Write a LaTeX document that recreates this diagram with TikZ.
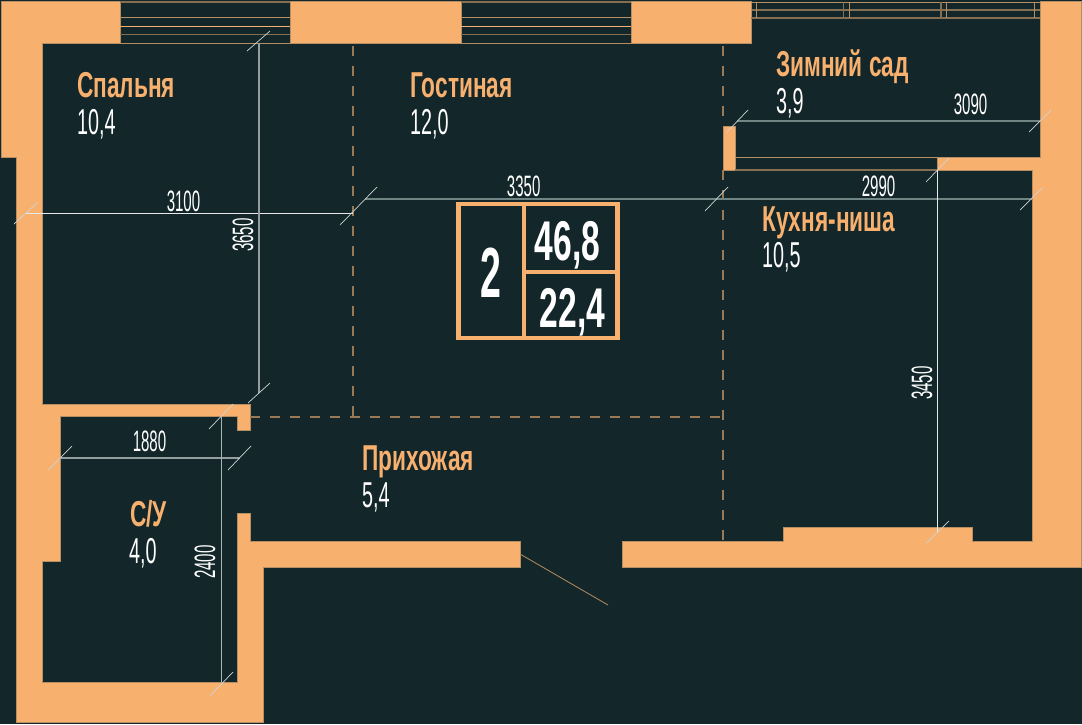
\documentclass[tikz,border=0pt]{standalone}
\usepackage{fontspec}
\newfontfamily\namefont[FakeStretch=0.63]{Liberation Sans Bold}
\newfontfamily\areafont[FakeStretch=0.55]{Liberation Sans}
\newfontfamily\dimfont[FakeStretch=0.51]{Liberation Sans}
\newfontfamily\boxfont[FakeStretch=0.6]{Liberation Sans Bold}
\definecolor{plandark}{HTML}{132629}
\definecolor{planwall}{HTML}{F8B06F}
\definecolor{planedge}{HTML}{B58E63}
\definecolor{planpart}{HTML}{9A7A55}
\definecolor{plandim}{HTML}{6F8684}
\tikzset{
	wall/.style={fill=planwall, draw=planedge, line width=0.6pt},
	glass/.style={draw=planwall, line width=1pt},
	glassdim/.style={draw=planedge!70!plandark, line width=1.3pt},
	partline/.style={draw=planpart, line width=1.3pt, dash pattern=on 10pt off 10pt},
	dimline/.style={draw=plandim, line width=1.6pt},
	dimwhite/.style={draw=white!90!plandark, line width=1pt},
	slash/.style={draw=white!80!plandark, line width=0.7pt},
	roomname/.style={anchor=base west, inner sep=0pt, text=planwall, font=\namefont\fontsize{36}{36}\selectfont},
	roomarea/.style={anchor=base west, inner sep=0pt, text=white, font=\areafont\fontsize{36}{36}\selectfont},
	dimtext/.style={anchor=base, inner sep=0pt, text=white, font=\dimfont\fontsize{29.5}{29.5}\selectfont},
}
\begin{document}
\begin{tikzpicture}[x=1pt, y=-1pt]
	\useasboundingbox (0,0) rectangle (1082,724);
	\fill[plandark] (0,0) rectangle (1082,724);

	% Walls
	\draw[wall] (1,1.5) -- (120,1.5) -- (120,43) -- (42,43) -- (42,404) -- (250,404) -- (250,430) -- (237,430) -- (237,416) -- (60,416) -- (60,561) -- (42,561) -- (42,682.5) -- (237,682.5) -- (237,513) -- (250,513) -- (250,541) -- (520,541) -- (520,567) -- (263,567) -- (263,722) -- (16,722) -- (16,157) -- (1,157) -- cycle;
	\draw[wall] (290,1.5) rectangle (461,43);
	\draw[wall] (631,1.5) rectangle (751,43);
	\draw[wall] (1040,1.5) -- (1081,1.5) -- (1081,567) -- (622,567) -- (622,541) -- (783,541) -- (783,527) -- (972,527) -- (972,541) -- (1032,541) -- (1032,170) -- (937,170) -- (937,157) -- (1040,157) -- cycle;
	\draw[wall] (723,126) rectangle (735,170);

	% Bedroom window
	\draw[glassdim] (120,2) -- (290,2);
	\draw[glass, planedge] (120,17.5) -- (290,17.5);
	\draw[glass] (120,26) -- (290,26);
	\draw[glassdim] (120,34.5) -- (290,34.5);
	\draw[glass, planedge] (120,43) -- (290,43);

	% Living room window
	\draw[glassdim] (461,2) -- (631,2);
	\draw[glass, planedge] (461,17.5) -- (631,17.5);
	\draw[glass] (461,26) -- (631,26);
	\draw[glassdim] (461,34.5) -- (631,34.5);
	\draw[glass, planedge] (461,43) -- (631,43);

	% Winter garden glazing
	\draw[glass, planedge] (751,2) -- (1040,2);
	\draw[glassdim] (751,10) -- (1040,10);
	\draw[glassdim] (751,18) -- (1040,18);
	\draw[glass, planedge] (751,1.5) -- (751,18);
	\draw[glass, planedge] (756.5,1.5) -- (756.5,18);
	\draw[glassdim] (843.5,1.5) -- (843.5,18);
	\draw[glass, planedge] (849,1.5) -- (849,18);
	\draw[glassdim] (941,1.5) -- (941,18);
	\draw[glass, planedge] (946.5,1.5) -- (946.5,18);
	\draw[glass, planedge] (1034.5,1.5) -- (1034.5,18);

	% Kitchen window
	\draw[glass, planedge] (735,157) -- (937,157);
	\draw[glassdim] (735,170) -- (937,170);
	\draw[glass, planedge] (937,157) -- (937,170);

	% Room borders
	\draw[partline] (353,46) -- (353,416);
	\draw[partline] (723,46) -- (723,126);
	\draw[partline] (723,170) -- (723,541);
	\draw[partline] (250,417) -- (723,417);

	% Door leaf
	\draw[draw=planedge, line width=0.8pt] (520,554) -- (608,605);

	% Dimensions
	\draw[dimwhite] (26,213) -- (353,213);
	\draw[dimline] (365,199) -- (1032,199);
	\draw[dimline, white!55!plandark] (259,43) -- (259,393);
	\draw[dimline] (737,121) -- (1040,121);
	\draw[dimwhite] (937.5,170) -- (937.5,532);
	\draw[dimline, line width=1.2pt, white!55!plandark] (60,458) -- (240,458);
	\draw[dimline, line width=1.2pt, white!65!plandark] (221.5,416) -- (221.5,684);

	% Dimension ticks
	\draw[slash] (14,224) -- (38,202);
	\draw[slash] (340,225) -- (377,187);
	\draw[slash] (705,211) -- (728,187);
	\draw[slash] (1020,210) -- (1042,188);
	\draw[slash] (247,51) -- (270,31);
	\draw[slash] (248,403) -- (270,383);
	\draw[slash] (727,132) -- (748,110);
	\draw[slash] (1029,132) -- (1051,110);
	\draw[slash] (926,182) -- (949,158);
	\draw[slash] (926.5,543) -- (949,521);
	\draw[slash] (48,470) -- (72,446);
	\draw[slash] (228,470) -- (251,446);
	\draw[slash] (209,429) -- (233,404);
	\draw[slash] (210,696) -- (233,672);

	% Dimension values
	\node[dimtext] (dimbedroom) at (183.5,211) {3100};
	\node[dimtext] (dimliving) at (523.7,196) {3350};
	\node[dimtext] (dimkitchen) at (878.5,196) {2990};
	\node[dimtext] (dimgarden) at (970.5,114) {3090};
	\node[dimtext] (dimbath) at (149.5,451) {1880};
	\node[dimtext, rotate=90] (dimdepth) at (253,235) {3650};
	\node[dimtext, rotate=90] (dimkitchendepth) at (932,383) {3450};
	\node[dimtext, rotate=90] (dimbathdepth) at (215,562) {2400};

	% Room names and areas
	\node[roomname] (bedroom) at (77,97) {Спальня};
	\node[roomarea] (bedroomarea) at (77,134) {10,4};
	\node[roomname] (living) at (410,97) {Гостиная};
	\node[roomarea] (livingarea) at (410,134) {12,0};
	\node[roomname] (garden) at (776,76) {Зимний сад};
	\node[roomarea] (gardenarea) at (776,113) {3,9};
	\node[roomname] (kitchen) at (762,231) {Кухня-ниша};
	\node[roomarea] (kitchenarea) at (762,267) {10,5};
	\node[roomname] (hall) at (362,470) {Прихожая};
	\node[roomarea] (hallarea) at (362,507) {5,4};
	\node[roomname] (bath) at (130,526) {С/У};
	\node[roomarea] (batharea) at (129,563) {4,0};

	% Apartment box
	\draw[draw=planwall, line width=4.2pt] (458.5,204) rectangle (617.5,338);
	\draw[draw=planwall, line width=4.6pt] (524,204) -- (524,338);
	\draw[draw=planwall, line width=4.6pt] (524,272) -- (617.5,272);
	\node[anchor=base, inner sep=0pt, text=white, font=\boxfont\fontsize{71}{71}\selectfont, xscale=0.88] (rooms) at (490.5,297) {2};
	\node[anchor=base, inner sep=0pt, text=white, font=\boxfont\fontsize{56}{56}\selectfont] (totalarea) at (567.5,260) {46,8};
	\node[anchor=base, inner sep=0pt, text=white, font=\boxfont\fontsize{56}{56}\selectfont] (livingtotal) at (572.5,327) {22,4};
\end{tikzpicture}
\end{document}
